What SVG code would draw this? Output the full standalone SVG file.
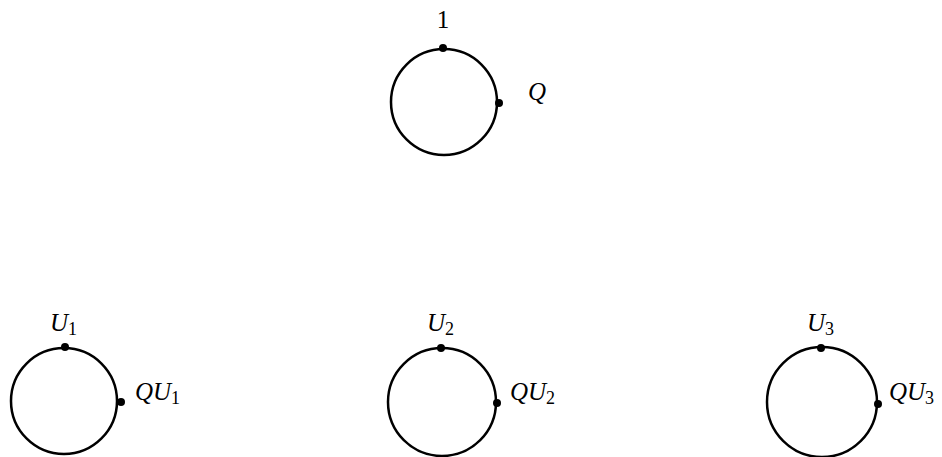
<svg xmlns="http://www.w3.org/2000/svg" width="942" height="457" viewBox="0 0 942 457">
<style>
.c{fill:none;stroke:#000;stroke-width:2.5}
.d{fill:#000}
.t{font-family:"Liberation Serif",serif;font-size:25px;fill:#000}
.i{font-style:italic}
.s{font-size:18px}
</style>
<rect width="942" height="457" fill="#fff"/>
<g id="node-top">
<circle class="c" cx="444" cy="102" r="53"/>
<circle class="d" cx="443" cy="48" r="4"/>
<circle class="d" cx="499" cy="103" r="4"/>
<text class="t" x="443" y="28" text-anchor="middle">1</text>
<text class="t i" x="528" y="100">Q</text>
</g>
<g id="node-u1">
<circle class="c" cx="64" cy="401" r="53"/>
<circle class="d" cx="65" cy="347" r="4"/>
<circle class="d" cx="121" cy="402" r="4"/>
<text class="t" x="50" y="331"><tspan class="i">U</tspan><tspan class="s" dy="4">1</tspan></text>
<text class="t" x="135" y="400"><tspan class="i">QU</tspan><tspan class="s" dy="4">1</tspan></text>
</g>
<g id="node-u2">
<circle class="c" cx="442" cy="402" r="54"/>
<circle class="d" cx="441" cy="348" r="4"/>
<circle class="d" cx="497" cy="403" r="4"/>
<text class="t" x="427" y="331"><tspan class="i">U</tspan><tspan class="s" dy="4">2</tspan></text>
<text class="t" x="510" y="400"><tspan class="i">QU</tspan><tspan class="s" dy="4">2</tspan></text>
</g>
<g id="node-u3">
<circle class="c" cx="822" cy="402" r="55"/>
<circle class="d" cx="821" cy="348" r="4"/>
<circle class="d" cx="878" cy="404" r="4"/>
<text class="t" x="807" y="331"><tspan class="i">U</tspan><tspan class="s" dy="4">3</tspan></text>
<text class="t" x="889" y="400"><tspan class="i">QU</tspan><tspan class="s" dy="4">3</tspan></text>
</g>
<g id="connectors"></g>
</svg>
